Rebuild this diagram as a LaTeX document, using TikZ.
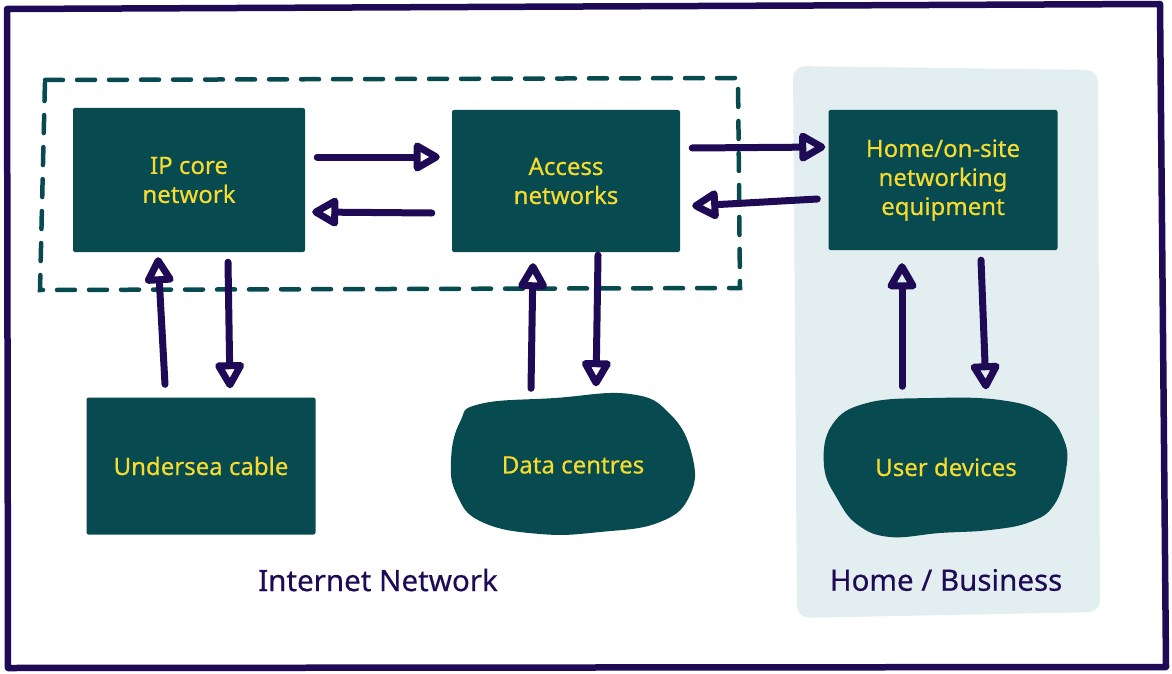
\documentclass[tikz,border=0pt]{standalone}
\usepackage{fontspec}
\setmainfont{Noto Sans}[FakeBold=0.4]
\usetikzlibrary{arrows.meta,calc}
\definecolor{teal1}{HTML}{074A50}
\definecolor{ylw}{HTML}{F7DC2E}
\definecolor{ink}{HTML}{1E0A55}
\definecolor{panel}{HTML}{E3EEF0}
\tikzset{
  boxnode/.style={fill=teal1, text=ylw, rounded corners=2pt, align=center,
    font=\fontsize{24}{29}\selectfont, inner sep=0pt},
  blobnode/.style={text=ylw, align=center, font=\fontsize{24}{29}\selectfont, inner sep=0pt},
  flow/.style={draw=ink, line width=7pt, line cap=round, line join=round,
    -{Triangle[open, length=30pt, width=32pt, line join=round]}},
  caption/.style={text=ink, font=\fontsize{29.5}{34}\selectfont}
}
\begin{document}
\begin{tikzpicture}[x=1pt, y=-1pt]
\useasboundingbox (0,0) rectangle (1172,674);
% light panel
\fill[panel, rounded corners=12pt] (793,66) -- (1098,70) -- (1100,612) -- (797,618) -- cycle;
% outer frame
\draw[ink, line width=6.5pt, line join=round] (7,9) -- (1160,4) -- (1166,667) -- (8,668) -- cycle;
% dashed group
\draw[teal1, line width=4.5pt, line cap=round, dash pattern=on 18pt off 14pt]
  (45,80) -- (738,78) -- (740,288) -- (40,290) -- cycle;
% blobs
\fill[teal1] plot[smooth cycle, tension=0.75] coordinates {(480,404) (555,398) (630,394) (670,414) (692,455) (690,495) (660,522) (600,532) (540,534) (482,522) (457,495) (451,460) (460,422)};
\fill[teal1] plot[smooth cycle, tension=0.7] coordinates {(867,403) (933,398) (1000,400) (1043,413) (1064,440) (1066,470) (1054,505) (1030,522) (990,530) (940,533) (890,537) (858,525) (838,500) (824,466) (832,425)};
% nodes
\node[boxnode, minimum width=232pt, minimum height=144pt] (ip) at (189,180) {IP core\\network};
\node[boxnode, minimum width=228pt, minimum height=142pt] (acc) at (566,181) {Access\\networks};
\node[boxnode, minimum width=229pt, minimum height=140pt] (home) at (943,180) {Home/on-site\\networking\\equipment};
\node[boxnode, minimum width=229pt, minimum height=137pt] (sea) at (201,466) {Undersea cable};
\node[blobnode, minimum width=247pt, minimum height=141pt] (dc) at (573,465) {Data centres};
\node[blobnode, minimum width=246pt, minimum height=143pt] (ud) at (946,467) {User devices};
\node[caption] (lblnet) at (378,580) {Internet Network};
\node[caption] (lblhome) at (946,580) {Home / Business};
% horizontal arrows
\draw[flow] ($(ip.east)+(12,-23)$) -- ($(acc.west)+(-12,-24)$);
\draw[flow] ($(acc.west)+(-20,32)$) -- ($(ip.east)+(7,32)$);
\draw[flow] ($(acc.east)+(12,-33)$) -- ($(home.west)+(-3,-33)$);
\draw[flow] ($(home.west)+(-11,19)$) -- ($(acc.east)+(12,25)$);
% vertical arrows
\draw[flow] ($(sea.north)+(-36,-13)$) -- ($(ip.south)+(-31,5)$);
\draw[flow] ($(ip.south)+(39,10)$) -- ($(sea.north)+(29,-9)$);
\draw[flow] ($(dc.north)+(-42,-6)$) -- ($(acc.south)+(-33,11)$);
\draw[flow] ($(acc.south)+(32,3)$) -- ($(dc.north)+(23,-8)$);
\draw[flow] ($(ud.north)+(-44,-9)$) -- ($(home.south)+(-41,13)$);
\draw[flow] ($(home.south)+(38,10)$) -- ($(ud.north)+(40,-6)$);
\end{tikzpicture}
\end{document}
